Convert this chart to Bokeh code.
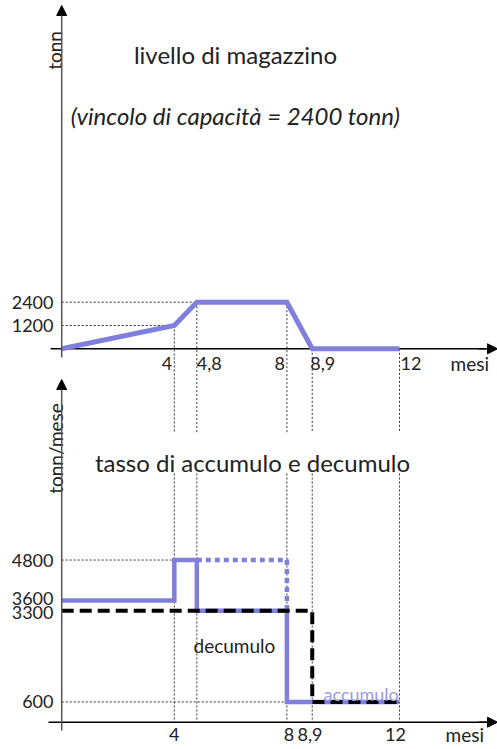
from bokeh.plotting import figure
from bokeh.models import Range1d, Arrow, NormalHead
from bokeh.core.properties import value
from bokeh.embed import file_html
from bokeh.resources import INLINE

# ---------------- data ----------------
months = [0, 4, 4.8, 8, 8.9, 12]
stock = [0, 1200, 2400, 2400, 0, 0]          # livello di magazzino (tonn)

acc_months = [0, 4, 4.8, 8, 12]
acc_rate = [3600, 4800, 3300, 600, 600]      # accumulo (tonn/mese)

cap_months = [4.8, 8]
cap_rate = [4800, 3300]                      # accumulo senza vincolo (tratteggio)

dec_months = [0, 8.9, 12]
dec_rate = [3300, 600, 600]                  # decumulo (tonn/mese)

stock_ticks = [1200, 2400]
stock_tick_labels = ["1200", "2400"]
rate_ticks = [600, 3300, 3600, 4800]
rate_tick_labels = ["600", "3300", "3600", "4800"]
month_ticks = [4, 4.8, 8, 8.9, 12]
month_tick_labels = ["4", "4,8", "8", "8,9", "12"]

# ---------------- geometry helpers (page pixel -> data) ----------------
W, H = 497, 749
PX_X = 28.15        # px per month
X0 = 61.2           # page x of month 0
TOP0, TOP_U = 348.3, 51.5   # page y of 0 tonn, tonn per px
BOT0, BOT_U = 721.7, 29.6   # page y of 0 tonn/mese, units per px


def xx(px):
    return (px - X0) / PX_X


def ty(py):
    return (TOP0 - py) * TOP_U


def by(py):
    return (BOT0 - py) * BOT_U


p = figure(width=W, height=H, output_backend="svg", toolbar_location=None,
           x_range=Range1d(xx(0), xx(W)), y_range=Range1d(ty(H), ty(0)),
           x_axis_type=None, y_axis_type=None, min_border=0)
p.extra_y_ranges = {"rate": Range1d(by(H), by(0))}
p.grid.visible = False
p.outline_line_color = None
p.background_fill_color = "white"
p.border_fill_color = "white"

FONT = value("Lato")
TXT = "#222222"
BLUE = "#8080dc"
REF = dict(line_color="#333333", line_width=1, line_dash="2 2")
TICK = "18px"
ALAB = "19px"
TITLE = "24px"

# ---------------- top panel ----------------
# reference lines
p.segment(x0=[0, 0], y0=stock[1:3], x1=months[1:3], y1=stock[1:3], **REF)
p.segment(x0=months[1:], y0=stock[1:], x1=months[1:], y1=[ty(432)] * 5, **REF)

# axes
p.segment(x0=[xx(50)], y0=[0], x1=[xx(486)], y1=[0], line_color="black", line_width=1.5)
p.add_layout(Arrow(x_start=xx(478), y_start=0, x_end=xx(497), y_end=0,
                   line_color="black", line_width=1.5,
                   end=NormalHead(size=10, fill_color="black", line_color="black")))
p.add_layout(Arrow(x_start=0, y_start=ty(357), x_end=0, y_end=ty(5),
                   line_color="#555555", line_width=1.5,
                   end=NormalHead(size=10, fill_color="black", line_color="black")))

# curve
p.line(months, stock, line_color=BLUE, line_width=5, line_join="miter")

# texts
p.text(x=[xx(235)], y=[ty(54)], text=["livello di magazzino"], text_font=FONT,
       text_font_size=TITLE, text_align="center", text_baseline="alphabetic",
       text_color=TXT)
p.text(x=[xx(235)], y=[ty(115)], text=["(vincolo di capacità = 2400 tonn)"],
       text_font=FONT, text_font_style="italic", text_font_size=TITLE,
       text_align="center", text_baseline="alphabetic", text_color=TXT)
p.text(x=[xx(54)], y=[ty(50)], text=["tonn"], angle=1.5708, text_font=FONT,
       text_font_size=ALAB, text_align="center", text_baseline="alphabetic",
       text_color=TXT)
p.text(x=[xx(53)] * 2, y=stock_ticks, text=stock_tick_labels, text_font=FONT,
       text_font_size=TICK, text_align="right", text_baseline="middle",
       text_color=TXT)
# month labels: right of / left of the guide lines
p.text(x=[month_ticks[0], month_ticks[2]], y=[ty(363)] * 2,
       text=[month_tick_labels[0], month_tick_labels[2]], x_offset=-2,
       text_font=FONT, text_font_size=TICK, text_align="right",
       text_baseline="middle", text_color=TXT)
p.text(x=[month_ticks[1], month_ticks[3], month_ticks[4]], y=[ty(363)] * 3,
       text=[month_tick_labels[1], month_tick_labels[3], month_tick_labels[4]],
       x_offset=[0, -2, 1], text_font=FONT, text_font_size=TICK, text_align="left",
       text_baseline="middle", text_color=TXT)
p.text(x=[xx(450)], y=[ty(363)], text=["mesi"], text_font=FONT,
       text_font_size=ALAB, text_align="left", text_baseline="middle",
       text_color=TXT)

# ---------------- bottom panel ----------------
p.segment(x0=[0, 0], y0=[acc_rate[1], acc_rate[3]], x1=[acc_months[1], acc_months[3]],
          y1=[acc_rate[1], acc_rate[3]], y_range_name="rate", **REF)
p.segment(x0=month_ticks, y0=[by(473)] * 5, x1=month_ticks, y1=[0] * 5,
          y_range_name="rate", **REF)

p.segment(x0=[xx(48)], y0=[0], x1=[xx(486)], y1=[0], line_color="black",
          line_width=1.5, y_range_name="rate")
p.add_layout(Arrow(x_start=xx(478), y_start=0, x_end=xx(497), y_end=0,
                   line_color="black", line_width=1.5, y_range_name="rate",
                   end=NormalHead(size=10, fill_color="black", line_color="black")))
p.add_layout(Arrow(x_start=0, y_start=by(730), x_end=0, y_end=by(379),
                   line_color="#555555", line_width=1.5, y_range_name="rate",
                   end=NormalHead(size=10, fill_color="black", line_color="black")))

p.step(acc_months, acc_rate, mode="after", line_color=BLUE, line_width=4.5,
       line_join="miter", y_range_name="rate")
p.step(cap_months, cap_rate, mode="after", line_color=BLUE, line_width=4.5,
       line_dash="5 4", y_range_name="rate")
p.step(dec_months, dec_rate, mode="after", line_color="black", line_width=4,
       line_dash="12 6", line_join="miter", y_range_name="rate")

p.text(x=[xx(252)], y=[by(462)], text=["tasso di accumulo e decumulo"], text_font=FONT,
       text_font_size=TITLE, text_align="center", text_baseline="alphabetic",
       text_color=TXT, y_range_name="rate")
p.text(x=[xx(55)], y=[by(448)], text=["tonn/mese"], angle=1.5708, text_font=FONT,
       text_font_size=ALAB, text_align="center", text_baseline="alphabetic",
       text_color=TXT, y_range_name="rate")
p.text(x=[xx(53)] * 4, y=rate_ticks, text=rate_tick_labels, text_font=FONT,
       text_font_size=TICK, text_align="right", text_baseline="middle",
       y_offset=[0, 2, -2.5, 0],
       text_color=TXT, y_range_name="rate")
p.text(x=[month_ticks[0], xx(288.5), xx(297), xx(395)], y=[by(734)] * 4,
       text=[month_tick_labels[0], month_tick_labels[2], month_tick_labels[3],
             month_tick_labels[4]],
       text_font=FONT, text_font_size=TICK,
       text_align=["center", "center", "left", "center"], text_baseline="middle",
       text_color=TXT, y_range_name="rate")
p.text(x=[xx(445)], y=[by(734)], text=["mesi"], text_font=FONT,
       text_font_size=ALAB, text_align="left", text_baseline="middle",
       text_color=TXT, y_range_name="rate")
p.text(x=[xx(193)], y=[by(645)], text=["decumulo"], text_font=FONT,
       text_font_size="19px", text_align="left", text_baseline="alphabetic",
       text_color=TXT, y_range_name="rate")
p.text(x=[xx(323)], y=[by(693)], text=["accumulo"], text_font=FONT,
       text_font_size="18px", text_align="left", text_baseline="alphabetic",
       text_color="#9a9ae2", y_range_name="rate")

open("out.html", "w").write(file_html(p, INLINE))
